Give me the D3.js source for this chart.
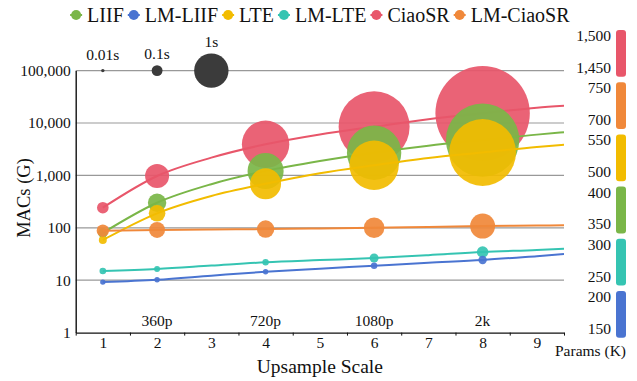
<!DOCTYPE html>
<html>
<head>
<meta charset="utf-8">
<script src="https://cdn.jsdelivr.net/npm/d3@7"></script>
<style>
	body { margin: 0; background: #fff; }
	svg text { font-family: "Liberation Serif", "Times New Roman", serif; fill: #111; }
</style>
</head>
<body>
<div id="chart"></div>
<script>

// upsample scales
const categories = [1, 2, 3, 4, 5, 6, 7, 8, 9];
const lineScales = [1, 2, 3, 4, 5, 6, 7, 8, 9, 9.5];
const bubbleScales = [1, 2, 4, 6, 8];
const resolutionScales = [2, 4, 6, 8];
const resolutionNames = ['360p', '720p', '1080p', '2k'];

// MACs (G) along each curve
const ciaosrLine = [242, 975, 2180, 3925, 6050, 8500, 11800, 15300, 19600, 21400];
const liifLine = [80, 301, 680, 1213, 1880, 2710, 3680, 4720, 6000, 6650];
const lteLine = [58.5, 189, 405, 692, 1100, 1560, 2140, 2735, 3500, 3860];
const lmCiaosrLine = [88, 91, 93, 94.6, 97, 100, 104, 108, 110.5, 112];
const lmLteLine = [15, 16.4, 19, 22, 24.2, 26.5, 30, 34.5, 37.8, 39.9];
const lmLiifLine = [9.2, 10.2, 12.2, 14.5, 16.6, 18.9, 21.5, 24.3, 28.8, 31.5];

// runtime (s) at the bubble scales
const ciaosrTime = [0.114, 0.487, 1.9, 4.26, 7.53];
const liifTime = [0.08, 0.286, 1.1, 2.5, 4.55];
const lteTime = [0.054, 0.233, 0.81, 2.06, 3.77];
const lmCiaosrTime = [0.13, 0.216, 0.256, 0.359, 0.528];
const lmLteTime = [0.037, 0.03, 0.035, 0.068, 0.114];
const lmLiifTime = [0.025, 0.025, 0.025, 0.035, 0.06];

// runtime reference bubbles
const refTimes = [0.01, 0.1, 1];
const refLabels = ['0.01s', '0.1s', '1s'];
const refScales = [1, 2, 3];
const refMacs = 100000;

// params range (K), top to bottom
const paramNames = ['CiaoSR', 'LM-CiaoSR', 'LTE', 'LIIF', 'LM-LTE', 'LM-LIIF'];
const paramHigh = [1500, 750, 550, 400, 300, 200];
const paramLow = [1450, 700, 500, 350, 250, 150];

const yTicks = [1, 10, 100, 1000, 10000, 100000];
const legendNames = ['LIIF', 'LM-LIIF', 'LTE', 'LM-LTE', 'CiaoSR', 'LM-CiaoSR'];

const colors = {
	'LIIF': '#7ab648',
	'LM-LIIF': '#4a74d1',
	'LTE': '#f2bc00',
	'LM-LTE': '#35c4b2',
	'CiaoSR': '#e8566a',
	'LM-CiaoSR': '#f0883a'
};

class BubbleChart {

	constructor(options) {
		this.series = options.series;
		this.element = options.element;
		this.draw();
	}

	draw() {
		this.width = 637;
		this.height = 381;

		this.createSVG();
		this.createScales();
		this.createGrid();
		this.createAxes();
		this.createRefBubbles();
		this.createSeries();
		this.createLegend();
		this.createParams();
	}

	createSVG() {
		this.svg = d3.select(this.element)
			.append('svg')
				.attr('width', this.width)
				.attr('height', this.height);
	}

	createScales() {
		this.xScale = d3.scaleLinear()
			.domain([0.5, 9.5])
			.range([75.7, 564]);

		this.yScale = d3.scaleLog()
			.domain([1, 100000])
			.range([332.6, 70.6]);

		this.rScale = d3.scaleSqrt()
			.domain([0, 1])
			.range([0, 17.2]);
	}

	createGrid() {
		this.svg.append('g')
			.selectAll('line')
			.data(yTicks.slice(1))
			.join('line')
				.attr('x1', this.xScale(0.5))
				.attr('x2', this.xScale(9.5))
				.attr('y1', d => this.yScale(d))
				.attr('y2', d => this.yScale(d))
				.attr('stroke', '#999')
				.attr('stroke-width', 1.2);
	}

	createAxes() {
		let y0 = this.yScale(1);

		this.xAxis = d3.axisBottom(this.xScale)
			.tickValues(categories)
			.tickSize(0)
			.tickPadding(4.8)
			.tickFormat(d3.format('d'));

		let gx = this.svg.append('g')
			.attr('transform', `translate(0, ${y0})`)
			.call(this.xAxis);
		gx.select('.domain').remove();
		gx.selectAll('text').attr('font-size', 15.5).attr('font-family', null);

		// boundary ticks between categories
		let gb = this.svg.append('g')
			.attr('transform', `translate(0, ${y0})`)
			.call(d3.axisBottom(this.xScale)
				.tickValues(d3.range(0.5, 10, 1))
				.tickSize(3)
				.tickSizeOuter(0)
				.tickFormat(''));
		gb.selectAll('line').attr('stroke', '#111');
		gb.select('.domain').attr('stroke', '#111').attr('stroke-width', 1.4);

		this.yAxis = d3.axisLeft(this.yScale)
			.tickValues(yTicks)
			.tickSize(0)
			.tickSizeOuter(0)
			.tickPadding(5)
			.tickFormat(d3.format(','));

		let gy = this.svg.append('g')
			.attr('transform', `translate(${this.xScale(0.5)}, 0)`)
			.call(this.yAxis);
		gy.select('.domain').attr('stroke', '#111').attr('stroke-width', 1.4);
		gy.selectAll('text').attr('font-size', 15.5).attr('font-family', null);

		// resolution labels
		this.svg.append('g')
			.selectAll('text')
			.data(resolutionScales)
			.join('text')
				.attr('x', d => this.xScale(d))
				.attr('y', 326)
				.attr('text-anchor', 'middle')
				.attr('font-size', 15.5)
				.text((d, i) => resolutionNames[i]);

		this.svg.append('text')
			.attr('x', this.xScale(5))
			.attr('y', 373)
			.attr('text-anchor', 'middle')
			.attr('font-size', 19.5)
			.text('Upsample Scale');

		this.svg.append('text')
			.attr('transform', 'translate(30, 198) rotate(-90)')
			.attr('text-anchor', 'middle')
			.attr('font-size', 18.5)
			.text('MACs (G)');
	}

	createRefBubbles() {
		let g = this.svg.append('g');
		let cy = this.yScale(refMacs);

		refTimes.forEach((t, i) => {
			let r = this.rScale(t);
			g.append('circle')
				.attr('cx', this.xScale(refScales[i]))
				.attr('cy', cy)
				.attr('r', r)
				.attr('fill', '#3b3b3b');
			g.append('text')
				.attr('x', this.xScale(refScales[i]))
				.attr('y', cy - Math.max(r, 4) - 6.5)
				.attr('text-anchor', 'middle')
				.attr('font-size', 15.5)
				.text(refLabels[i]);
		});
	}

	createSeries() {
		var that = this;

		this.svg.append('clipPath')
			.attr('id', 'plot-clip')
			.append('rect')
				.attr('x', this.xScale(0.5))
				.attr('y', 0)
				.attr('width', this.xScale(9.5) - this.xScale(0.5))
				.attr('height', this.yScale(1));

		let line = d3.line()
			.x(d => that.xScale(d[0]))
			.y(d => that.yScale(d[1]))
			.curve(d3.curveMonotoneX);

		this.series.forEach(s => {
			let g = this.svg.append('g').attr('clip-path', 'url(#plot-clip)');
			let color = colors[s.name];

			g.selectAll('circle')
				.data(bubbleScales)
				.join('circle')
					.attr('cx', d => that.xScale(d))
					.attr('cy', d => that.yScale(s.line[lineScales.indexOf(d)]))
					.attr('r', (d, i) => that.rScale(s.time[i]))
					.attr('fill', color)
					.attr('fill-opacity', 0.92);

			g.append('path')
				.datum(lineScales.map((d, i) => [d, s.line[i]]))
				.attr('d', line)
				.attr('fill', 'none')
				.attr('stroke', color)
				.attr('stroke-width', 2);
		});
	}

	createLegend() {
		let g = this.svg.append('g');
		let x = 0;

		legendNames.forEach(name => {
			let item = g.append('g').attr('transform', `translate(${x}, 15)`);
			item.append('line')
				.attr('x1', 0).attr('x2', 12)
				.attr('stroke', colors[name])
				.attr('stroke-width', 2);
			item.append('circle')
				.attr('cx', 6)
				.attr('r', 5)
				.attr('fill', colors[name]);
			let t = item.append('text')
				.attr('x', 17)
				.attr('dy', '0.33em')
				.attr('font-size', 20)
				.text(name);
			x += 17 + t.node().getComputedTextLength() + 4;
		});

		let total = x - 4;
		g.attr('transform', `translate(${(this.xScale(0.5) + this.xScale(9.5)) / 2 - total / 2}, 0)`);
	}

	createParams() {
		let g = this.svg.append('g');

		paramNames.forEach((name, i) => {
			let top = 30 + i * 52.2;
			let h = 46.8;
			g.append('rect')
				.attr('x', 616)
				.attr('y', top)
				.attr('width', 10)
				.attr('height', h)
				.attr('rx', 3)
				.attr('fill', colors[name]);
			g.append('text')
				.attr('x', 611)
				.attr('y', top + 5.5)
				.attr('dy', '0.35em')
				.attr('text-anchor', 'end')
				.attr('font-size', 15.5)
				.text(d3.format(',')(paramHigh[i]));
			g.append('text')
				.attr('x', 611)
				.attr('y', top + h - 9.5)
				.attr('dy', '0.35em')
				.attr('text-anchor', 'end')
				.attr('font-size', 15.5)
				.text(d3.format(',')(paramLow[i]));
		});

		g.append('text')
			.attr('x', 626)
			.attr('y', 356)
			.attr('text-anchor', 'end')
			.attr('font-size', 15.5)
			.text('Params (K)');
	}

}

new BubbleChart({
	element: '#chart',
	series: [
		{ name: 'CiaoSR', line: ciaosrLine, time: ciaosrTime },
		{ name: 'LIIF', line: liifLine, time: liifTime },
		{ name: 'LTE', line: lteLine, time: lteTime },
		{ name: 'LM-CiaoSR', line: lmCiaosrLine, time: lmCiaosrTime },
		{ name: 'LM-LTE', line: lmLteLine, time: lmLteTime },
		{ name: 'LM-LIIF', line: lmLiifLine, time: lmLiifTime }
	]
});

</script>
</body>
</html>
